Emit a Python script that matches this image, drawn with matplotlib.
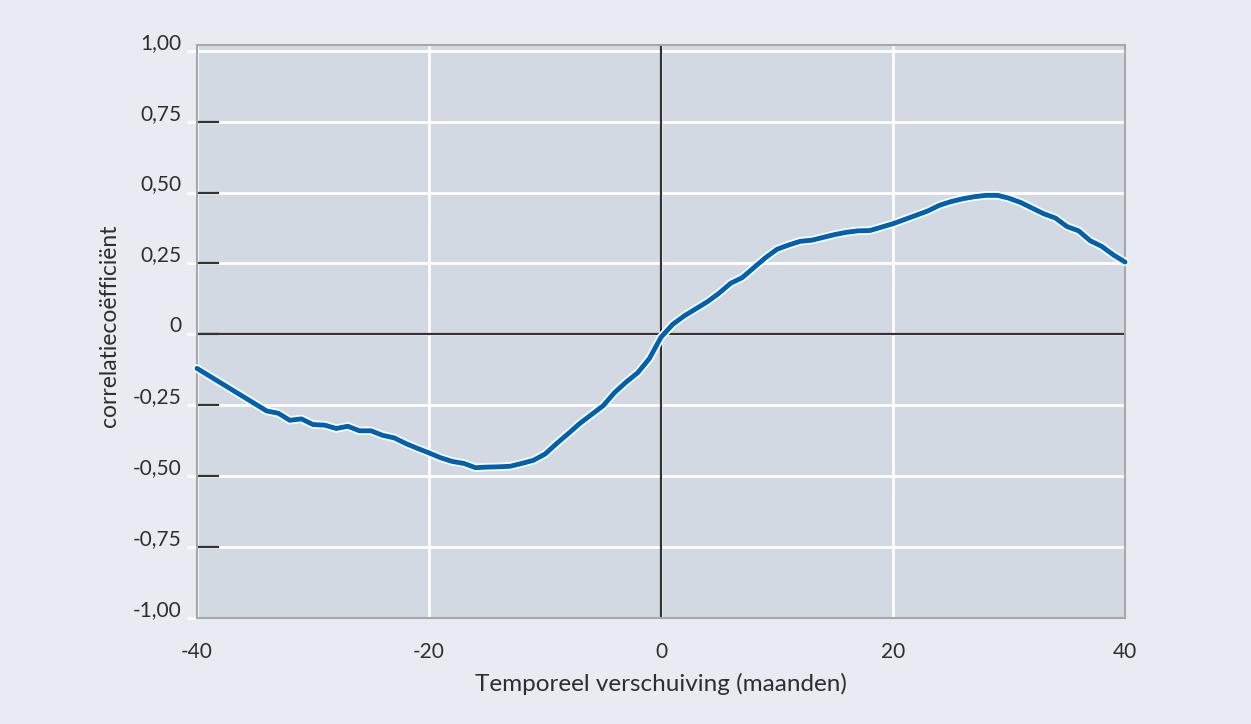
import matplotlib
matplotlib.use("Agg")
import matplotlib.pyplot as plt
import matplotlib.patheffects as pe
from matplotlib.transforms import ScaledTranslation

lags = list(range(-40, 41))
corr = [
    -0.120, -0.145, -0.170, -0.195, -0.220, -0.245, -0.270, -0.278, -0.303, -0.298,
    -0.318, -0.320, -0.332, -0.324, -0.340, -0.340, -0.356, -0.365, -0.385, -0.402,
    -0.418, -0.435, -0.448, -0.455, -0.470, -0.468, -0.467, -0.465, -0.455, -0.444,
    -0.422, -0.385, -0.350, -0.314, -0.283, -0.252, -0.205, -0.168, -0.135, -0.085,
    -0.010, 0.035, 0.065, 0.090, 0.115, 0.145, 0.180, 0.200, 0.235, 0.270,
    0.300, 0.315, 0.328, 0.332, 0.342, 0.352, 0.360, 0.365, 0.366, 0.378,
    0.390, 0.405, 0.420, 0.435, 0.455, 0.468, 0.478, 0.485, 0.490, 0.490,
    0.480, 0.465, 0.445, 0.425, 0.410, 0.380, 0.365, 0.330, 0.310, 0.280,
    0.255,
]
yticks = [-1.0, -0.75, -0.5, -0.25, 0, 0.25, 0.5, 0.75, 1.0]
ytick_labels = ["-1,00", "-0,75", "-0,50", "-0,25", "0", "0,25", "0,50", "0,75", "1,00"]
xticks = [-40, -20, 0, 20, 40]
xtick_labels = ["-40", "-20", "0", "20", "40"]

plt.rcParams['font.family'] = ['Lato', 'DejaVu Sans']
txt = "#2E2E2E"

fig = plt.figure(figsize=(12.51, 7.24), dpi=100, facecolor="#E8EBF2")
ax = fig.add_axes([0.1575, 0.1464, 0.7418, 0.7914])
ax.set_facecolor("#D2D9E3")
ax.set_xlim(-40, 40)
ax.set_ylim(-1.0, 1.02)

for s in ax.spines.values():
    s.set_color("#A8A8A8")
    s.set_linewidth(1.5)

ax.set_yticks(yticks)
ax.set_yticklabels(ytick_labels, fontsize=15, color=txt)
ax.set_xticks(xticks)
ax.set_xticklabels(xtick_labels, fontsize=15, color=txt)
ax.tick_params(axis="y", direction="out", length=7, width=2, color="white", pad=4)
ax.tick_params(axis="x", length=0, pad=17)
for lab in ax.get_yticklabels():
    lab.set_transform(lab.get_transform() + ScaledTranslation(0, 10 / 100, fig.dpi_scale_trans))

ax.grid(True, color="white", linewidth=2)
ax.set_axisbelow(True)
for yv in yticks:
    if -1.0 < yv < 1.0:
        ax.axhline(yv, xmin=0, xmax=0.023, color="#333333", linewidth=1.6, zorder=2)
ax.axhline(0, color="#333333", linewidth=1.6, zorder=2)
ax.axvline(0, color="#333333", linewidth=1.6, zorder=2)

ax.plot(lags, corr, color="#0062AE", linewidth=3.5, zorder=3, clip_on=False,
        solid_capstyle="round",
        path_effects=[pe.Stroke(linewidth=6, foreground="white"), pe.Normal()])

ax.set_ylabel("correlatiecoëfficiënt", fontsize=16.5, color=txt)
ax.set_xlabel("Temporeel verschuiving (maanden)", fontsize=17.5, color=txt, labelpad=8)
ax.yaxis.set_label_coords(-0.083, 0.51)

fig.savefig("out.png", dpi=100, facecolor=fig.get_facecolor())
